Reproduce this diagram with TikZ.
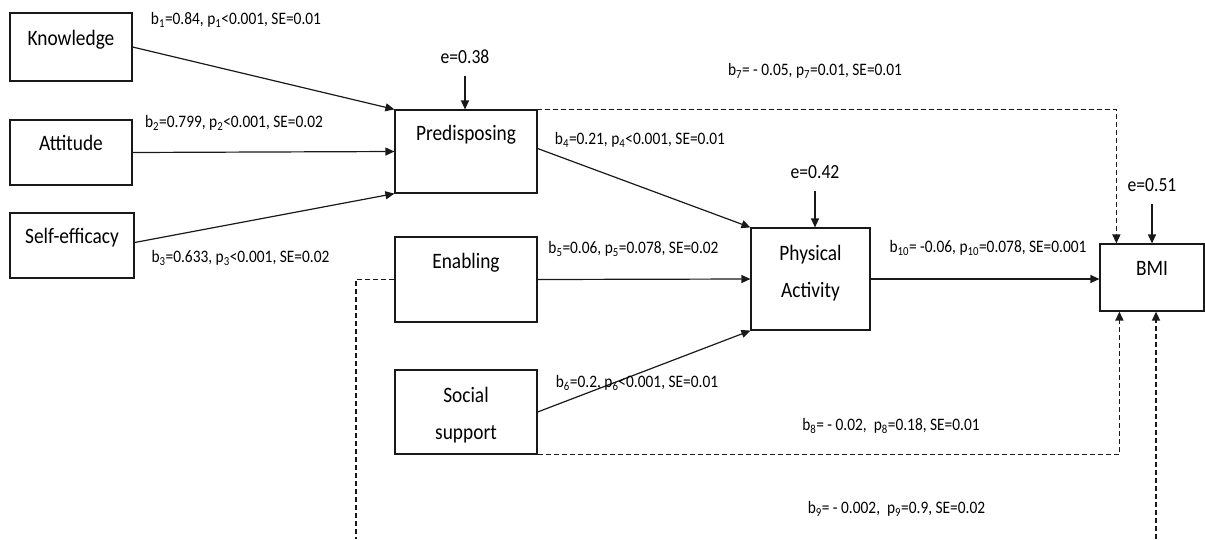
\documentclass[tikz,border=0pt]{standalone}
\usepackage{fontspec}
\setmainfont{Carlito}
\newfontfamily\condfont[FakeStretch=0.88]{Carlito}
\usetikzlibrary{arrows.meta,calc}
\begin{document}
\begin{tikzpicture}[x=1pt,y=-1pt,
  box/.style={draw=black!90, line width=1.2pt, rectangle, inner sep=0pt},
  boxtext/.style={inner sep=0pt, align=center, font=\condfont\fontsize{22}{37}\selectfont},
  coef/.style={inner sep=0pt, font=\condfont\fontsize{17.5}{20}\selectfont},
  errl/.style={inner sep=0pt, font=\condfont\fontsize{20}{22}\selectfont},
  arr/.style={draw=black!90, line width=1.2pt, -{Triangle[length=9pt,width=8pt]}},
  darr/.style={arr, line width=1.5pt, dash pattern=on 5pt off 3pt},
  dline/.style={draw=black!90, line width=1.5pt, dash pattern=on 5pt off 3pt},
]
\useasboundingbox (0,0) rectangle (1205,539);
% boxes
\node[box, minimum width=122pt, minimum height=68pt] (know) at (71,47) {};
\node[boxtext] (knowT) at (71,40) {Knowledge};
\node[box, minimum width=122pt, minimum height=65pt] (att) at (71,152.5) {};
\node[boxtext] (attT) at (71,143) {Attitude};
\node[box, minimum width=124pt, minimum height=65pt] (self) at (72,245.5) {};
\node[boxtext] (selfT) at (72,238) {Self-efficacy};
\node[box, minimum width=142pt, minimum height=83pt] (pred) at (466,151.5) {};
\node[boxtext] (predT) at (466,135) {Predisposing};
\node[box, minimum width=142pt, minimum height=85pt] (enab) at (466,279.5) {};
\node[boxtext] (enabT) at (466,263) {Enabling};
\node[box, minimum width=142pt, minimum height=84pt] (soc) at (466,412) {};
\node[boxtext] (socT) at (466,415.5) {Social\\support};
\node[box, minimum width=119pt, minimum height=102pt] (pa) at (810.5,279) {};
\node[boxtext] (paT) at (810.5,273) {Physical\\Activity};
\node[box, minimum width=104pt, minimum height=67pt] (bmi) at (1152,277.5) {};
\node[boxtext] (bmiT) at (1152,268) {BMI};
% error terms
\node[errl] (e1) at (465,57) {e=0.38};
\node[errl] (e2) at (815,172) {e=0.42};
\node[errl] (e3) at (1152,185) {e=0.51};
\draw[arr, shorten <=12pt] (e1.south) -- (e1.south |- pred.north);
\draw[arr, shorten <=12pt] (e2.south) -- (e2.south |- pa.north);
\draw[arr, shorten <=12pt] (e3.south) -- (e3.south |- bmi.north);
% solid paths
\draw[arr] (know.east) -- (pred.north west);
\draw[arr] (att.east) -- (pred.west);
\draw[arr] ($(self.east)+(0,-3)$) -- (pred.south west);
\draw[arr] ($(pred.east)+(0,-3)$) -- (pa.north west);
\draw[arr] (enab.east) -- (pa.west);
\draw[arr] (soc.east) -- (pa.south west);
\draw[arr] (pa.east) -- (bmi.west |- pa.east);
% dashed paths
\coordinate (b7s) at ($(pred.north east)+(-25,0)$);
\coordinate (b7e) at ($(bmi.north west)+(17,0)$);
\draw[darr] (b7s) -- (b7s -| b7e) -- (b7e);
\coordinate (b8e) at ($(bmi.south west)+(20,0)$);
\draw[darr] (soc.south) -- (soc.south -| b8e) -- (b8e);
\coordinate (b9l) at (356,539);
\coordinate (b9r) at (1156,539);
\draw[dline] (enab.west) -- (enab.west -| b9l) -- (b9l);
\draw[darr] (b9r) -- (b9r |- bmi.south);
% coefficients
\node[coef] (c1) at (236,20) {b\textsubscript{1}=0.84, p\textsubscript{1}<0.001, SE=0.01};
\node[coef] (c2) at (234,123) {b\textsubscript{2}=0.799, p\textsubscript{2}<0.001, SE=0.02};
\node[coef] (c3) at (240.5,258) {b\textsubscript{3}=0.633, p\textsubscript{3}<0.001, SE=0.02};
\node[coef] (c4) at (640,140) {b\textsubscript{4}=0.21, p\textsubscript{4}<0.001, SE=0.01};
\node[coef] (c5) at (633.5,249) {b\textsubscript{5}=0.06, p\textsubscript{5}=0.078, SE=0.02};
\node[coef] (c6) at (637,383) {b\textsubscript{6}=0.2, p\textsubscript{6}<0.001, SE=0.01};
\node[coef] (c7) at (815,71) {b\textsubscript{7}= - 0.05, p\textsubscript{7}=0.01, SE=0.01};
\node[coef] (c10) at (988,248) {b\textsubscript{10}= -0.06, p\textsubscript{10}=0.078, SE=0.001};
\node[coef] (c8) at (891,426) {b\textsubscript{8}= - 0.02, \ p\textsubscript{8}=0.18, SE=0.01};
\node[coef] (c9) at (896.5,509) {b\textsubscript{9}= - 0.002, \ p\textsubscript{9}=0.9, SE=0.02};
\end{tikzpicture}
\end{document}
